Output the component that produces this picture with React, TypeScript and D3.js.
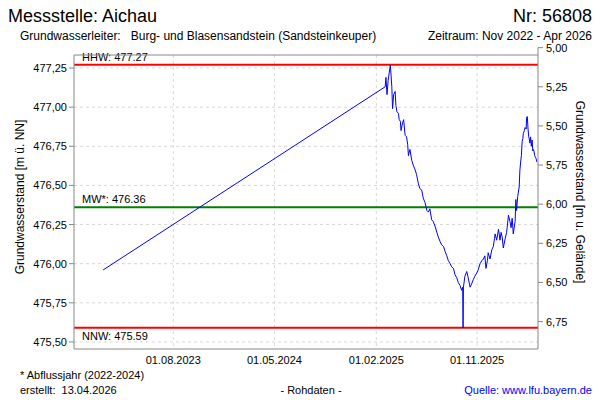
import React from "react";
import * as d3 from "d3";

// ---- data ----
const dates: string[] = [
  "2023-01-23", "2025-02-25", "2025-02-27", "2025-03-02", "2025-03-05", "2025-03-11", "2025-03-15", "2025-03-17",
  "2025-03-20", "2025-03-24", "2025-03-26", "2025-03-29", "2025-04-02", "2025-04-04", "2025-04-07", "2025-04-09",
  "2025-04-13", "2025-04-16", "2025-04-20", "2025-04-24", "2025-04-27", "2025-04-29", "2025-05-03", "2025-05-08",
  "2025-05-12", "2025-05-17", "2025-05-21", "2025-05-26", "2025-05-30", "2025-06-04", "2025-06-08", "2025-06-13",
  "2025-06-18", "2025-06-22", "2025-06-26", "2025-07-01", "2025-07-05", "2025-07-10", "2025-07-15", "2025-07-19",
  "2025-07-24", "2025-07-28", "2025-08-02", "2025-08-06", "2025-08-11", "2025-08-15", "2025-08-20", "2025-08-24",
  "2025-08-29", "2025-09-02", "2025-09-07", "2025-09-11", "2025-09-16", "2025-09-20", "2025-09-23", "2025-09-24",
  "2025-09-25", "2025-09-29", "2025-10-04", "2025-10-08", "2025-10-13", "2025-10-17", "2025-10-22", "2025-10-26",
  "2025-10-31", "2025-11-04", "2025-11-09", "2025-11-14", "2025-11-18", "2025-11-22", "2025-11-25", "2025-11-29",
  "2025-12-01", "2025-12-06", "2025-12-11", "2025-12-15", "2025-12-18", "2025-12-20", "2025-12-24", "2025-12-29",
  "2026-01-02", "2026-01-05", "2026-01-08", "2026-01-11", "2026-01-16", "2026-01-20", "2026-01-25", "2026-01-29",
  "2026-02-01", "2026-02-04", "2026-02-07", "2026-02-12", "2026-02-14", "2026-02-16", "2026-02-19", "2026-02-23",
  "2026-02-25", "2026-02-27", "2026-03-01", "2026-03-03", "2026-03-05", "2026-03-06", "2026-03-09", "2026-03-11",
  "2026-03-14", "2026-03-15", "2026-03-17", "2026-03-19", "2026-03-21", "2026-03-23", "2026-03-24", "2026-03-26",
  "2026-03-28", "2026-03-30", "2026-04-01", "2026-04-02", "2026-04-04", "2026-04-06", "2026-04-08", "2026-04-10",
  "2026-04-12",
];

const levels: number[] = [
  475.96, 477.13, 477.19, 477.08, 477.17, 477.27, 477.13, 476.99,
  477.08, 477.10, 477.01, 476.97, 476.96, 476.92, 476.91, 476.85,
  476.90, 476.92, 476.82, 476.81, 476.76, 476.69, 476.73, 476.66,
  476.63, 476.60, 476.57, 476.51, 476.48, 476.47, 476.42, 476.39,
  476.34, 476.33, 476.35, 476.28, 476.27, 476.24, 476.20, 476.17,
  476.14, 476.12, 476.11, 476.08, 476.05, 476.02, 476.00, 475.98,
  475.97, 475.93, 475.91, 475.88, 475.86, 475.83, 475.85, 475.59,
  475.85, 475.92, 475.95, 475.91, 475.85, 475.87, 475.90, 475.92,
  475.94, 475.96, 476.00, 476.02, 476.03, 476.05, 475.97, 476.02,
  476.07, 476.03, 476.09, 476.11, 476.16, 476.19, 476.15, 476.22,
  476.15, 476.20, 476.17, 476.10, 476.16, 476.20, 476.31, 476.27,
  476.23, 476.29, 476.19, 476.27, 476.41, 476.34, 476.43, 476.49,
  476.60, 476.65, 476.69, 476.78, 476.80, 476.83, 476.85, 476.87,
  476.86, 476.93, 476.94, 476.86, 476.81, 476.79, 476.77, 476.81,
  476.75, 476.79, 476.72, 476.73, 476.72, 476.69, 476.68, 476.67,
  476.65,
];

const refLabels: string[] = ["HHW", "MW*", "NNW"];
const refValues: number[] = [477.27, 476.36, 475.59];
const refColors: string[] = ["#ff0000", "#008000", "#ff0000"];

const leftTicks: number[] = [475.5, 475.75, 476.0, 476.25, 476.5, 476.75, 477.0, 477.25];
const rightTicks: number[] = [5.0, 5.25, 5.5, 5.75, 6.0, 6.25, 6.5, 6.75];
const xTickLabels: string[] = ["01.08.2023", "01.05.2024", "01.02.2025", "01.11.2025"];

const groundLevel = 482.38;
const xDomain: string[] = ["2022-11-05", "2026-04-15"];
const yDomain: number[] = [475.455, 477.333];

const FONT = "'Liberation Sans', Arial, sans-serif";

export default function App() {
  const W = 600;
  const H = 400;
  const left = 74;
  const right = 538;
  const top = 55;
  const bottom = 349;

  const parse = d3.timeParse("%Y-%m-%d");
  const parseDE = d3.timeParse("%d.%m.%Y");
  const x = d3
    .scaleTime()
    .domain([parse(xDomain[0]) as Date, parse(xDomain[1]) as Date])
    .range([left, right]);
  const y = d3.scaleLinear().domain(yDomain).range([bottom, top]);
  const yR = d3
    .scaleLinear()
    .domain([groundLevel - yDomain[0], groundLevel - yDomain[1]])
    .range([bottom, top]);

  const pts = dates.map((d, i) => ({ d: parse(d) as Date, v: levels[i] }));
  const line = d3
    .line<{ d: Date; v: number }>()
    .x((p) => x(p.d))
    .y((p) => y(p.v));

  const fmt = (v: number) => v.toFixed(2).replace(".", ",");
  const xTicks = xTickLabels.map((s) => ({ s, px: x(parseDE(s) as Date) }));

  return (
    <svg
      width={W}
      height={H}
      style={{ position: "fixed", left: 0, top: 0, background: "#fff" }}
      fontFamily={FONT}
    >
      <rect x={0} y={0} width={W} height={H} fill="#fff" />
      {/* header */}
      <text x={8} y={22} fontSize={18} fill="#000">Messstelle: Aichau</text>
      <text x={592} y={22} fontSize={18} fill="#000" textAnchor="end">Nr: 56808</text>
      <text x={20} y={40} fontSize={12} fill="#000" xmlSpace="preserve">Grundwasserleiter:   Burg- und Blasensandstein (Sandsteinkeuper)</text>
      <text x={592} y={40} fontSize={12} fill="#000" textAnchor="end">Zeitraum: Nov 2022 - Apr 2026</text>

      {/* grid */}
      {leftTicks.map((t) => (
        <line key={"hg" + t} x1={left} x2={right} y1={y(t)} y2={y(t)} stroke="#d8d8d8" strokeDasharray="3,3" />
      ))}
      {xTicks.map((t) => (
        <line key={"vg" + t.s} x1={t.px} x2={t.px} y1={top} y2={bottom} stroke="#d8d8d8" strokeDasharray="3,3" />
      ))}

      {/* reference lines */}
      {refValues.map((v, i) => (
        <g key={"ref" + i}>
          <line x1={left} x2={right} y1={y(v)} y2={y(v)} stroke={refColors[i]} strokeWidth={2} />
          <text
            x={82}
            y={i === 2 ? y(v) + 12 : y(v) - 4}
            fontSize={11}
            fill="#000"
          >
            {refLabels[i] + ": " + v.toFixed(2)}
          </text>
        </g>
      ))}

      {/* data line */}
      <path d={line(pts) || ""} fill="none" stroke="#0000ff" strokeWidth={1} />

      {/* frame */}
      <line x1={left} x2={right} y1={top} y2={top} stroke="#888" />
      <line x1={left} x2={right} y1={bottom} y2={bottom} stroke="#888" />
      <line x1={left} x2={left} y1={top} y2={bottom} stroke="#888" />
      <line x1={right} x2={right} y1={yR(5.0)} y2={bottom} stroke="#888" />

      {/* left axis */}
      {leftTicks.map((t) => (
        <g key={"lt" + t}>
          <line x1={left - 5} x2={left} y1={y(t)} y2={y(t)} stroke="#888" />
          <text x={left - 7} y={y(t) + 4} fontSize={11} textAnchor="end" fill="#000">{fmt(t)}</text>
        </g>
      ))}
      <text
        transform={`translate(24,197) rotate(-90)`}
        fontSize={12}
        textAnchor="middle"
        fill="#000"
      >
        Grundwasserstand [m ü. NN]
      </text>

      {/* right axis */}
      {rightTicks.map((t) => (
        <g key={"rt" + t}>
          <line x1={right} x2={right + 5} y1={yR(t)} y2={yR(t)} stroke="#888" />
          <text x={right + 8} y={yR(t) + 4} fontSize={11} fill="#000">{fmt(t)}</text>
        </g>
      ))}
      <text
        transform={`translate(576,192) rotate(90)`}
        fontSize={12}
        textAnchor="middle"
        fill="#000"
      >
        Grundwasserstand [m u. Gelände]
      </text>

      {/* x axis labels */}
      {xTicks.map((t) => (
        <text key={"xl" + t.s} x={t.px} y={364} fontSize={11} textAnchor="middle" fill="#000">{t.s}</text>
      ))}

      {/* footer */}
      <text x={20} y={379} fontSize={11} fill="#000" xmlSpace="preserve">* Abflussjahr (2022-2024)</text>
      <text x={20} y={394} fontSize={11} fill="#000" xmlSpace="preserve">erstellt:  13.04.2026</text>
      <text x={311} y={394} fontSize={11} fill="#000" textAnchor="middle">- Rohdaten -</text>
      <text x={592} y={394} fontSize={11} fill="#0000ff" textAnchor="end">Quelle: www.lfu.bayern.de</text>
    </svg>
  );
}
